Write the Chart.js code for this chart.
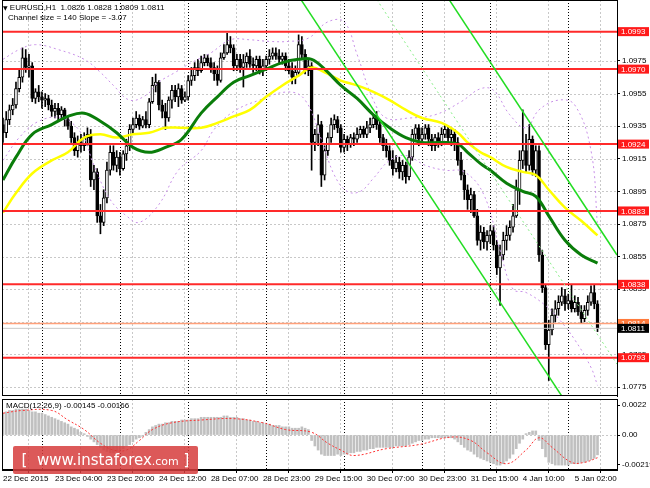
<!DOCTYPE html>
<html lang="en">
<head>
<meta charset="UTF-8">
<title>EURUSD H1</title>
<script src="https://cdn.jsdelivr.net/npm/chart.js"></script>
<style>
    body { margin: 0; background: #fff; font-family: "Liberation Sans", Arial, sans-serif; }
    .wrap { position: relative; width: 650px; height: 488px; overflow: hidden; background: #fff; }
    canvas { position: absolute; left: 0; }
    #priceChart { top: 0; }
    #macdChart { top: 397px; }
    .info { position: absolute; font-size: 8px; line-height: 9px; color: #000; white-space: nowrap; }
    .logo {
        position: absolute; left: 13px; top: 446px; width: 185px; height: 28px;
        background: rgba(214, 60, 60, 0.85); border-radius: 2px;
        color: #fff; font-family: "DejaVu Sans", sans-serif; white-space: nowrap;
        line-height: 28px; text-align: center;
    }
    .logo .big { font-size: 15px; }
    .logo .small { font-size: 11px; }
</style>
</head>
<body>
<div class="wrap">
    <canvas id="priceChart" width="650" height="397"></canvas>
    <canvas id="macdChart" width="650" height="91"></canvas>
    <div class="info" style="left:3px; top:3px;"><span style="font-family:'DejaVu Sans';font-size:6px;">&#9660;</span> EURUSD,H1&nbsp;&nbsp;1.0826 1.0828 1.0809 1.0811</div>
    <div class="info" style="left:8px; top:13px;">Channel size = 140 Slope = -3.07</div>
    <div class="info" style="left:6px; top:401px;">MACD(12,26,9) -0.00145 -0.00166</div>
    <div class="logo"><span class="big">[ &nbsp;www.instaforex</span><span class="small">.com</span><span class="big"> ]</span></div>
</div>
<script>
// time axis (one bar = one hour)
const xLabels = ['22 Dec 2015', '23 Dec 04:00', '23 Dec 20:00', '24 Dec 12:00', '28 Dec 07:00', '28 Dec 23:00',
    '29 Dec 15:00', '30 Dec 07:00', '30 Dec 23:00', '31 Dec 15:00', '4 Jan 10:00', '5 Jan 02:00'];
const xLabelBars = [0, 16, 32, 48, 64, 80, 96, 112, 128, 144, 160, 176];
const daySeparators = [12, 36, 57, 81, 105, 129, 150, 174];

const priceTicks = [1.0775, 1.0795, 1.0815, 1.0835, 1.0855, 1.0875, 1.0895, 1.0915, 1.0935, 1.0955, 1.0975];
const macdTicks = [0.0022, 0, -0.00219];
const macdTickLabels = ['0.0022', '0.00', '-0.00219'];

// EURUSD H1 candles
const opens = [
    1.0936, 1.0931, 1.0939, 1.0945, 1.0948, 1.0958, 1.0965, 1.0977, 1.0971, 1.0972,
    1.0952, 1.0956, 1.0953, 1.0951, 1.0952, 1.0948, 1.0944, 1.0946, 1.0942, 1.0945,
    1.0939, 1.0935, 1.0928, 1.0920, 1.0925, 1.0923, 1.0928, 1.0930, 1.0902, 1.0907,
    1.0880, 1.0876, 1.0891, 1.0908, 1.0919, 1.0911, 1.0916, 1.0909, 1.0918, 1.0923,
    1.0933, 1.0936, 1.0940, 1.0935, 1.0939, 1.0936, 1.0950, 1.0960, 1.0962, 1.0948,
    1.0944, 1.0940, 1.0951, 1.0957, 1.0953, 1.0958, 1.0951, 1.0953, 1.0963, 1.0966,
    1.0971, 1.0969, 1.0974, 1.0977, 1.0974, 1.0971, 1.0967, 1.0963, 1.0977, 1.0980,
    1.0985, 1.0983, 1.0972, 1.0976, 1.0971, 1.0974, 1.0978, 1.0973, 1.0972, 1.0976,
    1.0969, 1.0972, 1.0976, 1.0978, 1.0980, 1.0978, 1.0976, 1.0978, 1.0972, 1.0969,
    1.0965, 1.0968, 1.0985, 1.0979, 1.0969, 1.0972, 1.0925, 1.0930, 1.0936, 1.0905,
    1.0920, 1.0928, 1.0936, 1.0939, 1.0934, 1.0922, 1.0927, 1.0924, 1.0928, 1.0927,
    1.0930, 1.0933, 1.0930, 1.0934, 1.0936, 1.0940, 1.0936, 1.0928, 1.0923, 1.0920,
    1.0914, 1.0909, 1.0913, 1.0907, 1.0911, 1.0904, 1.0916, 1.0930, 1.0934, 1.0927,
    1.0930, 1.0934, 1.0927, 1.0923, 1.0928, 1.0925, 1.0930, 1.0933, 1.0928, 1.0930,
    1.0925, 1.0914, 1.0905, 1.0896, 1.0890, 1.0893, 1.0880, 1.0865, 1.0870, 1.0864,
    1.0868, 1.0871, 1.0862, 1.0848, 1.0856, 1.0865, 1.0868, 1.0873, 1.0880, 1.0896,
    1.0914, 1.0920, 1.0911, 1.0927, 1.0908, 1.0920, 1.0856, 1.0836, 1.0801, 1.0810,
    1.0819, 1.0823, 1.0827, 1.0831, 1.0826, 1.0828, 1.0823, 1.0827, 1.0821, 1.0817,
    1.0822, 1.0827, 1.0833, 1.0826
];
const highs = [
    1.0940, 1.0944, 1.0948, 1.0952, 1.0962, 1.0970, 1.0983, 1.0982, 1.0979, 1.0974,
    1.0958, 1.0960, 1.0956, 1.0955, 1.0954, 1.0951, 1.0949, 1.0949, 1.0947, 1.0946,
    1.0941, 1.0938, 1.0931, 1.0929, 1.0930, 1.0931, 1.0934, 1.0933, 1.0911, 1.0909,
    1.0887, 1.0896, 1.0913, 1.0923, 1.0923, 1.0920, 1.0919, 1.0920, 1.0927, 1.0936,
    1.0940, 1.0944, 1.0942, 1.0941, 1.0944, 1.0952, 1.0965, 1.0967, 1.0963, 1.0951,
    1.0949, 1.0953, 1.0960, 1.0960, 1.0961, 1.0960, 1.0956, 1.0966, 1.0971, 1.0974,
    1.0976, 1.0978, 1.0979, 1.0979, 1.0977, 1.0974, 1.0972, 1.0980, 1.0985, 1.0992,
    1.0990, 1.0985, 1.0979, 1.0979, 1.0979, 1.0980, 1.0982, 1.0977, 1.0978, 1.0978,
    1.0976, 1.0978, 1.0982, 1.0983, 1.0983, 1.0982, 1.0980, 1.0980, 1.0976, 1.0974,
    1.0972, 1.0991, 1.0990, 1.0982, 1.0976, 1.0974, 1.0933, 1.0942, 1.0938, 1.0923,
    1.0931, 1.0940, 1.0942, 1.0941, 1.0936, 1.0930, 1.0929, 1.0930, 1.0931, 1.0934,
    1.0935, 1.0935, 1.0938, 1.0940, 1.0942, 1.0944, 1.0939, 1.0930, 1.0927, 1.0923,
    1.0920, 1.0917, 1.0916, 1.0914, 1.0913, 1.0920, 1.0933, 1.0936, 1.0936, 1.0934,
    1.0936, 1.0936, 1.0930, 1.0930, 1.0931, 1.0934, 1.0936, 1.0935, 1.0934, 1.0933,
    1.0928, 1.0919, 1.0908, 1.0899, 1.0897, 1.0895, 1.0884, 1.0874, 1.0873, 1.0871,
    1.0874, 1.0874, 1.0865, 1.0862, 1.0870, 1.0874, 1.0877, 1.0887, 1.0902, 1.0920,
    1.0945, 1.0930, 1.0936, 1.0929, 1.0923, 1.0923, 1.0859, 1.0838, 1.0816, 1.0823,
    1.0828, 1.0831, 1.0836, 1.0835, 1.0832, 1.0838, 1.0831, 1.0830, 1.0825, 1.0825,
    1.0831, 1.0837, 1.0838, 1.0828
];
const lows = [
    1.0925, 1.0928, 1.0936, 1.0942, 1.0946, 1.0956, 1.0962, 1.0968, 1.0965, 1.0950,
    1.0949, 1.0950, 1.0946, 1.0947, 1.0945, 1.0941, 1.0940, 1.0939, 1.0940, 1.0935,
    1.0933, 1.0925, 1.0917, 1.0916, 1.0919, 1.0920, 1.0923, 1.0898, 1.0896, 1.0876,
    1.0869, 1.0874, 1.0888, 1.0905, 1.0908, 1.0907, 1.0905, 1.0908, 1.0914, 1.0920,
    1.0930, 1.0934, 1.0933, 1.0934, 1.0934, 1.0934, 1.0949, 1.0956, 1.0945, 1.0940,
    1.0933, 1.0938, 1.0946, 1.0950, 1.0947, 1.0949, 1.0950, 1.0951, 1.0960, 1.0963,
    1.0966, 1.0968, 1.0972, 1.0972, 1.0968, 1.0963, 1.0960, 1.0962, 1.0976, 1.0979,
    1.0980, 1.0969, 1.0969, 1.0968, 1.0959, 1.0971, 1.0971, 1.0968, 1.0969, 1.0967,
    1.0966, 1.0969, 1.0973, 1.0976, 1.0976, 1.0973, 1.0973, 1.0969, 1.0967, 1.0961,
    1.0961, 1.0966, 1.0976, 1.0967, 1.0966, 1.0908, 1.0920, 1.0923, 1.0898, 1.0902,
    1.0917, 1.0925, 1.0933, 1.0931, 1.0919, 1.0919, 1.0920, 1.0922, 1.0923, 1.0925,
    1.0928, 1.0928, 1.0928, 1.0931, 1.0934, 1.0933, 1.0925, 1.0920, 1.0916, 1.0911,
    1.0905, 1.0907, 1.0903, 1.0902, 1.0900, 1.0902, 1.0914, 1.0927, 1.0923, 1.0924,
    1.0927, 1.0923, 1.0920, 1.0920, 1.0922, 1.0923, 1.0928, 1.0925, 1.0923, 1.0920,
    1.0911, 1.0902, 1.0890, 1.0884, 1.0882, 1.0879, 1.0862, 1.0859, 1.0860, 1.0859,
    1.0863, 1.0859, 1.0844, 1.0825, 1.0853, 1.0859, 1.0865, 1.0870, 1.0879, 1.0887,
    1.0909, 1.0907, 1.0908, 1.0905, 1.0904, 1.0852, 1.0833, 1.0798, 1.0779, 1.0807,
    1.0815, 1.0819, 1.0825, 1.0822, 1.0823, 1.0821, 1.0821, 1.0819, 1.0814, 1.0815,
    1.0819, 1.0825, 1.0823, 1.0809
];
const closes = [
    1.0931, 1.0939, 1.0945, 1.0948, 1.0958, 1.0965, 1.0977, 1.0971, 1.0972, 1.0952,
    1.0956, 1.0953, 1.0951, 1.0952, 1.0948, 1.0944, 1.0946, 1.0942, 1.0945, 1.0939,
    1.0935, 1.0928, 1.0920, 1.0925, 1.0923, 1.0928, 1.0930, 1.0902, 1.0907, 1.0880,
    1.0876, 1.0891, 1.0908, 1.0919, 1.0911, 1.0916, 1.0909, 1.0918, 1.0923, 1.0933,
    1.0936, 1.0940, 1.0935, 1.0939, 1.0936, 1.0950, 1.0960, 1.0962, 1.0948, 1.0944,
    1.0940, 1.0951, 1.0957, 1.0953, 1.0958, 1.0951, 1.0953, 1.0963, 1.0966, 1.0971,
    1.0969, 1.0974, 1.0977, 1.0974, 1.0971, 1.0967, 1.0963, 1.0977, 1.0980, 1.0985,
    1.0983, 1.0972, 1.0976, 1.0971, 1.0974, 1.0978, 1.0973, 1.0972, 1.0976, 1.0969,
    1.0972, 1.0976, 1.0978, 1.0980, 1.0978, 1.0976, 1.0978, 1.0972, 1.0969, 1.0965,
    1.0968, 1.0985, 1.0979, 1.0969, 1.0972, 1.0925, 1.0930, 1.0936, 1.0905, 1.0920,
    1.0928, 1.0936, 1.0939, 1.0934, 1.0922, 1.0927, 1.0924, 1.0928, 1.0927, 1.0930,
    1.0933, 1.0930, 1.0934, 1.0936, 1.0940, 1.0936, 1.0928, 1.0923, 1.0920, 1.0914,
    1.0909, 1.0913, 1.0907, 1.0911, 1.0904, 1.0916, 1.0930, 1.0934, 1.0927, 1.0930,
    1.0934, 1.0927, 1.0923, 1.0928, 1.0925, 1.0930, 1.0933, 1.0928, 1.0930, 1.0925,
    1.0914, 1.0905, 1.0896, 1.0890, 1.0893, 1.0880, 1.0865, 1.0870, 1.0864, 1.0868,
    1.0871, 1.0862, 1.0848, 1.0856, 1.0865, 1.0868, 1.0873, 1.0880, 1.0896, 1.0914,
    1.0920, 1.0911, 1.0927, 1.0908, 1.0920, 1.0856, 1.0836, 1.0801, 1.0810, 1.0819,
    1.0823, 1.0827, 1.0831, 1.0826, 1.0828, 1.0823, 1.0827, 1.0821, 1.0817, 1.0822,
    1.0827, 1.0833, 1.0826, 1.0811
];

// moving averages, read at these bars
const maBars = [0, 4, 9, 15, 20, 25, 30, 35, 40, 45, 50, 55, 61, 66, 71, 76, 81, 86, 91, 95,
    99, 104, 109, 114, 119, 124, 129, 135, 140, 143, 147, 150, 155, 160, 164, 168, 173, 178, 183];
const yellowMA = [1.0882, 1.0894, 1.0906, 1.0914, 1.0919, 1.0928, 1.0930, 1.0928, 1.0930, 1.0931,
    1.0934, 1.0934, 1.0934, 1.0937, 1.0941, 1.0945, 1.0953, 1.0960, 1.0966, 1.0971,
    1.0968, 1.0963, 1.0960, 1.0956, 1.0951, 1.0945, 1.0940, 1.0937, 1.0931, 1.0925,
    1.0919, 1.0916, 1.0910, 1.0907, 1.0905, 1.0896, 1.0885, 1.0877, 1.0868];
const greenMA = [1.0902, 1.0916, 1.0930, 1.0936, 1.0941, 1.0943, 1.0938, 1.0931, 1.0922, 1.0919,
    1.0922, 1.0927, 1.0943, 1.0953, 1.0962, 1.0966, 1.0970, 1.0974, 1.0976, 1.0976,
    1.0970, 1.0960, 1.0952, 1.0942, 1.0934, 1.0928, 1.0925, 1.0925, 1.0924, 1.0919,
    1.0912, 1.0908, 1.0900, 1.0895, 1.0892, 1.0880, 1.0865, 1.0856, 1.0851];

// dotted bands
const bandUpperBars = [0, 5, 10, 17, 25, 30, 34, 39, 44, 48, 53, 58, 64, 70, 76, 82, 88, 94, 100, 105,
    109, 114, 118, 125, 133, 141, 147, 151, 156, 161, 165, 171, 176, 181, 183];
const bandUpper = [1.0976, 1.0982, 1.0985, 1.0982, 1.0976, 1.0968, 1.0960, 1.0951, 1.0954, 1.0962,
    1.0968, 1.0974, 1.0980, 1.0988, 1.0988, 1.0987, 1.0987, 1.0989, 1.0999, 1.0999,
    1.0979, 1.0951, 1.0940, 1.0940, 1.0942, 1.0950, 1.0958, 1.0957, 1.0942, 1.0934,
    1.0945, 1.0951, 1.0948, 1.0920, 1.0874];
const bandLowerBars = [0, 5, 11, 18, 24, 28, 33, 38, 42, 48, 54, 61, 65, 71, 79, 88, 93, 98, 102, 106,
    110, 114, 119, 124, 130, 136, 142, 148, 153, 157, 161, 167, 171, 176, 181, 183];
const bandLower = [1.0914, 1.0928, 1.0938, 1.0940, 1.0931, 1.0911, 1.0890, 1.0880, 1.0876, 1.0887,
    1.0908, 1.0920, 1.0933, 1.0944, 1.0951, 1.0956, 1.0951, 1.0927, 1.0905, 1.0895,
    1.0895, 1.0903, 1.0914, 1.0917, 1.0911, 1.0908, 1.0907, 1.0893, 1.0859, 1.0835,
    1.0833, 1.0825, 1.0817, 1.0804, 1.0787, 1.0776];

// regression channel: [bar, price] at both ends
const channelUpper = [[125, 1.1050], [189, 1.0856]];
const channelMiddle = [[110, 1.1028], [189, 1.0789]];
const channelLower = [[85, 1.1033], [189, 1.0718]];

// horizontal levels
const redLevels = [1.0993, 1.0970, 1.0924, 1.0883, 1.0838, 1.0793];
const orangeLevel = 1.0814;
const bidLevel = 1.0811;

// MACD(12,26,9)
const macdHist = [
    0.0016, 0.0017, 0.0018, 0.0018, 0.0019, 0.0019, 0.0019, 0.0019, 0.0018, 0.0017,
    0.0017, 0.0016, 0.0016, 0.0015, 0.0014, 0.0013, 0.0012, 0.0011, 0.0010, 0.0009,
    0.0008, 0.0006, 0.0005, 0.0004, 0.0002, 0.0001, -0.0001, -0.0003, -0.0005, -0.0007,
    -0.0009, -0.0011, -0.0012, -0.0013, -0.0013, -0.0012, -0.0011, -0.0010, -0.0008, -0.0007,
    -0.0005, -0.0003, -0.0002, -0.0001, 0.0002, 0.0004, 0.0006, 0.0007, 0.0008, 0.0008,
    0.0009, 0.0009, 0.0010, 0.0010, 0.0010, 0.0011, 0.0011, 0.0011, 0.0012, 0.0012,
    0.0012, 0.0013, 0.0013, 0.0013, 0.0013, 0.0013, 0.0013, 0.0013, 0.0014, 0.0014,
    0.0013, 0.0013, 0.0013, 0.0012, 0.0012, 0.0011, 0.0011, 0.0010, 0.0010, 0.0009,
    0.0009, 0.0008, 0.0008, 0.0007, 0.0007, 0.0007, 0.0006, 0.0006, 0.0006, 0.0005,
    0.0005, 0.0005, 0.0006, 0.0005, 0.0004, -0.0004, -0.0008, -0.0011, -0.0014, -0.0015,
    -0.0015, -0.0015, -0.0015, -0.0014, -0.0015, -0.0014, -0.0014, -0.0013, -0.0013, -0.0012,
    -0.0012, -0.0011, -0.0011, -0.0010, -0.0010, -0.0009, -0.0009, -0.0009, -0.0009, -0.0009,
    -0.0009, -0.0008, -0.0008, -0.0008, -0.0008, -0.0007, -0.0006, -0.0005, -0.0004, -0.0004,
    -0.0003, -0.0003, -0.0002, -0.0002, -0.0002, -0.0002, -0.0002, -0.0002, -0.0002, -0.0003,
    -0.0005, -0.0007, -0.0009, -0.0011, -0.0012, -0.0014, -0.0016, -0.0017, -0.0018, -0.0019,
    -0.0020, -0.0021, -0.0022, -0.0022, -0.0021, -0.0019, -0.0017, -0.0014, -0.0010, -0.0006,
    -0.0003, 0.0001, 0.0002, 0.0003, 0.0003, -0.0004, -0.0010, -0.0016, -0.0020, -0.0021,
    -0.0022, -0.0022, -0.0022, -0.0022, -0.0022, -0.0021, -0.0021, -0.0021, -0.0020, -0.0020,
    -0.0019, -0.0018, -0.0017, -0.00145
];
const signalBars = [0, 6, 15, 20, 25, 30, 34, 38, 42, 46, 52, 61, 71, 80, 87, 95, 100, 104, 108, 118,
    128, 138, 144, 149, 155, 161, 165, 169, 175, 179, 183];
const signalLine = [0.0016, 0.0018, 0.0018, 0.0011, 0.0004, -0.0006, -0.0011, -0.0011, -0.0004, 0.0004,
    0.0009, 0.0011, 0.0012, 0.0009, 0.0004, 0.0002, -0.0006, -0.0011, -0.0015, -0.0010,
    -0.0007, -0.00015, -0.0004, -0.0013, -0.0021, -0.0011, -0.0002, -0.0009, -0.0020, -0.0020,
    -0.00166];

const X_MIN = -0.3, X_MAX = 189;
const FONT = { family: 'Liberation Sans', size: 8 };

function pairs(xs, ys) {
    return xs.map((x, i) => ({ x: x, y: ys[i] }));
}
function segment(ends) {
    return ends.map(e => ({ x: e[0], y: e[1] }));
}
function level(p) {
    return [{ x: X_MIN, y: p }, { x: X_MAX, y: p }];
}
// no extra room for the end labels, the plot fills its box
function noPad(s) {
    s.paddingTop = 0; s.paddingBottom = 0; s.paddingLeft = 0; s.paddingRight = 0;
}

// dotted grid, day separators and frame, MT4 style
function gridPlugin(horizontal) {
    return {
        id: 'mtGrid',
        beforeDatasetsDraw(chart) {
            const { ctx, chartArea: a, scales: { x, y } } = chart;
            ctx.save();
            ctx.lineWidth = 1;
            ctx.strokeStyle = '#c8c8c8';
            ctx.setLineDash([2, 2]);
            ctx.beginPath();
            if (horizontal) {
                y.ticks.forEach(t => {
                    const py = Math.round(y.getPixelForValue(t.value)) + 0.5;
                    ctx.moveTo(a.left, py); ctx.lineTo(a.right, py);
                });
            } else {
                const py = Math.round(y.getPixelForValue(0)) + 0.5;
                ctx.moveTo(a.left, py); ctx.lineTo(a.right, py);
            }
            for (let b = 7.7; b < X_MAX; b += 16) {
                const px = Math.round(x.getPixelForValue(b)) + 0.5;
                ctx.moveTo(px, a.top); ctx.lineTo(px, a.bottom);
            }
            ctx.stroke();
            ctx.strokeStyle = '#000';
            ctx.setLineDash([1, 2]);
            ctx.beginPath();
            daySeparators.forEach(b => {
                const px = Math.round(x.getPixelForValue(b)) + 0.5;
                ctx.moveTo(px, a.top); ctx.lineTo(px, a.bottom);
            });
            ctx.stroke();
            ctx.restore();
        },
        afterDraw(chart) {
            const { ctx, chartArea: a } = chart;
            ctx.save();
            ctx.strokeStyle = '#000';
            ctx.lineWidth = 1;
            ctx.strokeRect(a.left + 0.5, a.top + 0.5, a.right - a.left, a.bottom - a.top - 1);
            ctx.restore();
        }
    };
}

// price tags on the right axis
const tagPlugin = {
    id: 'priceTags',
    afterDraw(chart) {
        const { ctx, chartArea: a, scales: { y } } = chart;
        function tag(p, bg) {
            const py = y.getPixelForValue(p);
            ctx.fillStyle = bg;
            ctx.fillRect(a.right + 1, py - 4.5, 31, 9);
            ctx.fillStyle = '#fff';
            ctx.fillText(p.toFixed(4), a.right + 4, py + 0.5);
        }
        ctx.save();
        ctx.font = '8px "Liberation Sans"';
        ctx.textBaseline = 'middle';
        redLevels.forEach(p => tag(p, '#ff1a1a'));
        tag(orangeLevel, '#ff7a3c');
        tag(bidLevel, '#000');
        ctx.restore();
    }
};

const candleWicks = highs.map((h, i) => ({ x: i, y: [lows[i], h] }));
const candleBodies = opens.map((o, i) => ({ x: i, y: [o, closes[i]] }));
const bodyColors = opens.map((o, i) => closes[i] >= o ? '#ffffff' : '#000000');

const lineBase = { type: 'line', pointRadius: 0, fill: false };

new Chart(document.getElementById('priceChart'), {
    type: 'bar',
    data: {
        datasets: [
            { type: 'bar', data: candleWicks, backgroundColor: '#000', barThickness: 1, grouped: false, order: 10 },
            { type: 'bar', data: candleBodies, backgroundColor: bodyColors, borderColor: '#000', borderWidth: 1,
              borderSkipped: false, barThickness: 3, grouped: false, order: 9 },
            { ...lineBase, data: pairs(bandUpperBars, bandUpper), borderColor: '#c890e8', borderWidth: 1,
              borderDash: [2, 3], tension: 0.4, order: 8 },
            { ...lineBase, data: pairs(bandLowerBars, bandLower), borderColor: '#c890e8', borderWidth: 1,
              borderDash: [2, 3], tension: 0.4, order: 8 },
            { ...lineBase, data: pairs(maBars, yellowMA), borderColor: '#ffff00', borderWidth: 2.5, tension: 0.4, order: 7 },
            { ...lineBase, data: pairs(maBars, greenMA), borderColor: '#0a7d0a', borderWidth: 3, tension: 0.4, order: 6 },
            ...redLevels.map(p => ({ ...lineBase, data: level(p), borderColor: '#ff2a2a', borderWidth: 2, order: 5 })),
            { ...lineBase, data: level(orangeLevel), borderColor: '#ffa07a', borderWidth: 1.5, order: 5 },
            { ...lineBase, data: level(bidLevel), borderColor: '#c8c8c8', borderWidth: 1, order: 5 },
            { ...lineBase, data: segment(channelUpper), borderColor: '#22dd22', borderWidth: 1.5, order: 4 },
            { ...lineBase, data: segment(channelLower), borderColor: '#22dd22', borderWidth: 1.5, order: 4 },
            { ...lineBase, data: segment(channelMiddle), borderColor: '#88ee88', borderWidth: 1, borderDash: [2, 3], order: 4 }
        ]
    },
    options: {
        responsive: false,
        animation: false,
        events: [],
        layout: { padding: { left: 2, top: 0, right: 0, bottom: 1 } },
        plugins: { legend: { display: false }, tooltip: { enabled: false } },
        scales: {
            x: { type: 'linear', min: X_MIN, max: X_MAX, offset: false, display: false },
            y: {
                position: 'right',
                min: 1.07695,
                max: 1.10124,
                afterBuildTicks: s => { s.ticks = priceTicks.map(v => ({ value: v })); },
                afterFit: s => { s.width = 33; noPad(s); },
                ticks: { callback: v => v.toFixed(4), font: FONT, color: '#000', padding: 2 },
                grid: { drawOnChartArea: false, drawTicks: true, tickLength: 3, tickColor: '#000' },
                border: { display: true, color: '#000' }
            }
        }
    },
    plugins: [gridPlugin(true), tagPlugin]
});

new Chart(document.getElementById('macdChart'), {
    type: 'bar',
    data: {
        datasets: [
            { type: 'bar', data: macdHist.map((v, i) => ({ x: i, y: v })), backgroundColor: '#c0c0c0',
              barThickness: 2, grouped: false, order: 2 },
            { ...lineBase, data: pairs(signalBars, signalLine), borderColor: '#ff3333', borderWidth: 1,
              borderDash: [2, 2], tension: 0.4, order: 1 }
        ]
    },
    options: {
        responsive: false,
        animation: false,
        events: [],
        layout: { padding: { left: 2, top: 2, right: 0, bottom: 0 } },
        plugins: { legend: { display: false }, tooltip: { enabled: false } },
        scales: {
            x: {
                type: 'linear', min: X_MIN, max: X_MAX, offset: false,
                afterBuildTicks: s => { s.ticks = xLabelBars.map(v => ({ value: v })); },
                afterFit: s => { s.height = 18; noPad(s); },
                ticks: { callback: (v, i) => xLabels[i], align: 'start', autoSkip: false, maxRotation: 0, minRotation: 0,
                         font: FONT, color: '#000', padding: 1 },
                grid: { drawOnChartArea: false, drawTicks: true, tickLength: 3, tickColor: '#000' },
                border: { display: true, color: '#000' }
            },
            y: {
                position: 'right',
                min: -0.00256,
                max: 0.00264,
                afterBuildTicks: s => { s.ticks = macdTicks.map(v => ({ value: v })); },
                afterFit: s => { s.width = 33; noPad(s); },
                ticks: { callback: (v, i) => macdTickLabels[i], font: FONT, color: '#000', padding: 2 },
                grid: { drawOnChartArea: false, drawTicks: true, tickLength: 3, tickColor: '#000' },
                border: { display: true, color: '#000' }
            }
        }
    },
    plugins: [gridPlugin(false)]
});
</script>
</body>
</html>
